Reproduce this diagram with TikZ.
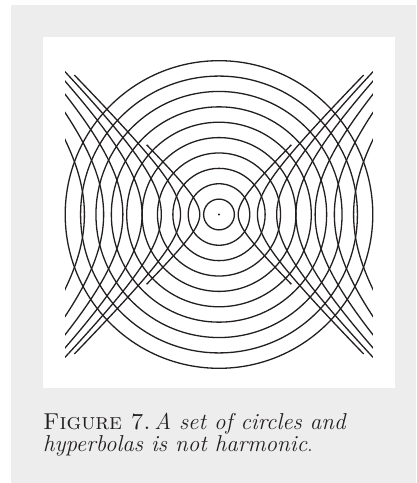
\documentclass[tikz,border=0pt]{standalone}
\usepackage{tikz}
\usetikzlibrary{calc}
\definecolor{grau}{HTML}{EDEDED}
\definecolor{tinte}{HTML}{231F20}

\begin{document}
\begin{tikzpicture}[x=1pt, y=1pt,
    every node/.style={font=\fontsize{23}{24}\selectfont, text=tinte, inner sep=0pt},
    curve/.style={line width=1.3pt, tinte}]
  \useasboundingbox (0,0) rectangle (416,483);
  % background
  \fill[grau] (11,0) rectangle (416,478);
  \fill[white] (43,95) rectangle (395,446);
  \begin{scope}[shift={(219,268.5)}, x=15.38pt, y=15.38pt]
    % circles
    \foreach \r in {1,...,10}
      \draw[curve] (0,0) circle (\r);
    \fill[tinte] (0,0) circle (0.07);
    % hyperbolas
    \clip (-10,-11) rectangle (10,11);
    \foreach \k in {1,...,7} {
      \draw[curve, domain=-2:2, samples=80, smooth]
        plot ({1.25*\k*cosh(\x)}, {1.25*\k*sinh(\x)});
      \draw[curve, domain=-2:2, samples=80, smooth]
        plot ({-1.25*\k*cosh(\x)}, {1.25*\k*sinh(\x)});
    }
  \end{scope}
  % caption
  \node[anchor=base west] (cap1) at (43,53)
    {\textsc{Figure 7.}\hspace{0.15em}\textit{A set of circles and}};
  \node[anchor=base west] (cap2) at (43,31)
    {\textit{hyperbolas is not harmonic}.};
\end{tikzpicture}
\end{document}
